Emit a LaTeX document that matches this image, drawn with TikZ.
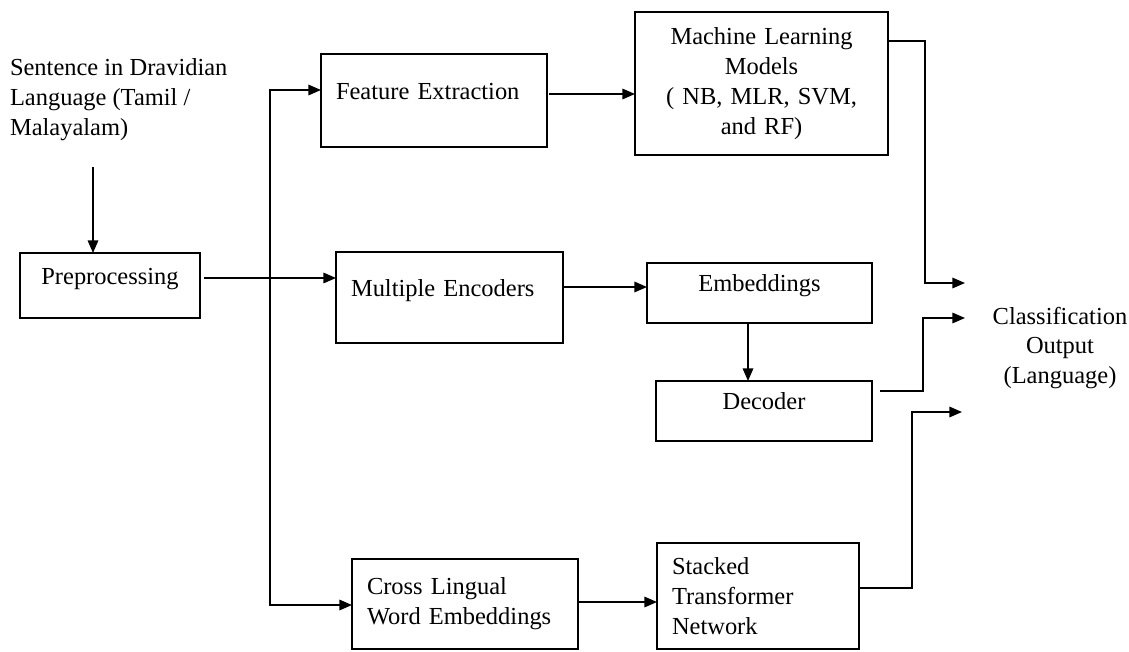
\documentclass[tikz,border=0pt]{standalone}
\usepackage{fontspec}
\setmainfont{Liberation Serif}
\usepackage{tikz}
\usetikzlibrary{arrows.meta, positioning, calc}

\tikzset{
    box/.style={draw=black, line width=1.2pt, anchor=north west, outer sep=0pt, inner ysep=0pt, inner xsep=0.375cm},
    oneline/.style={text height=12pt, text depth=13.5pt},
    arr/.style={line width=1.1pt, -{Triangle[length=9pt, width=7.5pt]}},
    txt/.style={inner sep=0pt, outer sep=0pt}
}

\begin{document}
\begin{tikzpicture}[x=0.025cm, y=-0.025cm, font=\fontsize{17.4}{21.3}\selectfont]
        \useasboundingbox (0,0) rectangle (1129,651);

        % --- Input ---
        \node[txt, anchor=north west, align=left] (sent) at (10,59) {Sentence in Dravidian\\Language (Tamil /\\Malayalam)};
        \node[box, oneline, align=center, text width=3.75cm, minimum height=1.625cm] (prep) at (20,253) {Preprocessing};

        % --- Upper branch ---
        \node[box, oneline, align=left, text width=4.9cm, minimum height=2.325cm] (feat) at (321,54) {Feature Extraction};
        \node[box, align=center, text width=5.575cm, minimum height=3.575cm] (mlm) at (635,12) {Machine Learning\\Models\\( NB, MLR, SVM,\\and RF)};

        % --- Middle branch ---
        \node[box, oneline, align=left, text width=4.925cm, minimum height=2.275cm] (enc) at (336,252) {Multiple Encoders};
        \node[box, oneline, align=center, text width=4.875cm, minimum height=1.5cm] (emb) at (647,263) {Embeddings};
        \node[box, oneline, align=center, text width=4.65cm, minimum height=1.5cm] (dec) at (656,381) {Decoder};

        % --- Lower branch ---
        \node[box, align=left, text width=4.9cm, minimum height=2.25cm] (cross) at (352,559) {Cross Lingual\\Word Embeddings};
        \node[box, align=left, text width=4.3cm, minimum height=2.65cm] (stack) at (657,543) {Stacked\\Transformer\\Network};

        % --- Output ---
        \node[txt, align=center] (out) at (1060,348) {Classification\\Output\\(Language)};

        % Pfeile
        \coordinate (s0) at (93,167);
        \draw[arr] (s0) -- (s0 |- prep.north);
        \draw[arr] ([shift={(4,25)}]prep.north east) coordinate (p1) -- (p1 -| enc.west);

        % Verzweigung
        \coordinate (split) at (270,278);
        \draw[arr] (split) |- ([shift={(0,36)}]feat.north west);
        \draw[arr] (split) |- ([shift={(0,46)}]cross.north west);

        \draw[arr] ([shift={(2,40)}]feat.north east) coordinate (p2) -- (p2 -| mlm.west);
        \draw[arr] ([shift={(0,35)}]enc.north east) coordinate (p3) -- (p3 -| emb.west);
        \draw[arr] ([shift={(101,0)}]emb.south west) coordinate (p4) -- (p4 |- dec.north);
        \draw[arr] ([shift={(0,43)}]cross.north east) coordinate (p5) -- (p5 -| stack.west);

        % Zur Ausgabe
        \coordinate (in1) at (965,283);
        \coordinate (in2) at (965,318);
        \coordinate (in3) at (962,412);
        \draw[arr] ([shift={(0,29)}]mlm.north east) -- ++(37,0) |- (in1);
        \draw[arr] ([shift={(8,10)}]dec.north east) -- ++(43,0) |- (in2);
        \draw[arr] ([shift={(0,45)}]stack.north east) -- ++(53,0) |- (in3);
\end{tikzpicture}
\end{document}
